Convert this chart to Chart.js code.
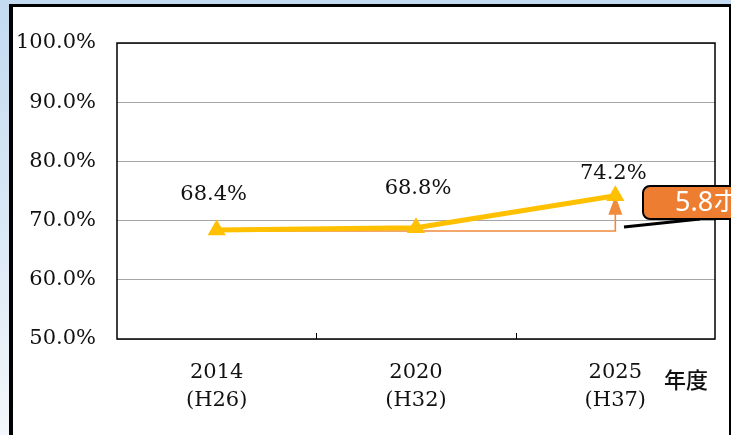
<!DOCTYPE html>
<html>
<head>
<meta charset="utf-8">
<script src="https://cdn.jsdelivr.net/npm/chart.js@4/dist/chart.umd.min.js"></script>
<style>
  html, body { margin: 0; padding: 0; }
  body {
    width: 731px; height: 435px; overflow: hidden; position: relative;
    background: linear-gradient(to bottom, #c3daf0 0%, #dce9f6 55%, #f3f7fb 100%);
  }
  #panel {
    position: absolute; left: 9px; top: 4px; width: 716px; height: 440px;
    background: #fff; border-left: 4px solid #000; border-top: 3px solid #000; border-right: 2px solid #000;
  }
  #chart { position: absolute; left: 0; top: 0; }
</style>
</head>
<body>
<div id="panel"></div>
<canvas id="chart" width="731" height="435"></canvas>
<script>
// データ
const categories = [['2014', '(H26)'], ['2020', '(H32)'], ['2025', '(H37)']];
const rates = [68.4, 68.8, 74.2];
const yTicks = [50, 60, 70, 80, 90, 100];
const diffLabel = '5.8ポイント';
const unitLabel = '年度';

const serif = '"DejaVu Serif", "Liberation Serif", serif';

// ラベルの位置調整
const labelDx = [-3, 2, -2];
const labelDy = [36, 39, 22];

// 枠線・目盛り・矢印・吹き出し
const decoPlugin = {
  id: 'deco',
  beforeDatasetsDraw(chart) {
    const { ctx, chartArea: a, scales: { x, y } } = chart;
    ctx.save();
    // 枠線
    ctx.strokeStyle = '#000';
    ctx.lineWidth = 1.5;
    ctx.strokeRect(a.left, a.top, a.right - a.left, a.bottom - a.top);
    // 内向きの目盛り
    ctx.lineWidth = 1;
    for (let i = 1; i < categories.length; i++) {
      const xx = Math.round((x.getPixelForValue(i - 1) + x.getPixelForValue(i)) / 2) + 0.5;
      ctx.beginPath();
      ctx.moveTo(xx, a.bottom - 6);
      ctx.lineTo(xx, a.bottom);
      ctx.stroke();
    }
    // 差分の矢印
    const x0 = x.getPixelForValue(0);
    const x2 = x.getPixelForValue(2);
    const y0 = y.getPixelForValue(rates[0]);
    const y2 = y.getPixelForValue(rates[2]);
    ctx.strokeStyle = '#F08A3C';
    ctx.fillStyle = '#F08A3C';
    ctx.lineWidth = 1.6;
    ctx.beginPath();
    ctx.moveTo(x0, y0 + 1);
    ctx.lineTo(x2, y0 + 1);
    ctx.lineTo(x2, y2 + 16);
    ctx.stroke();
    ctx.beginPath();
    ctx.moveTo(x2, y2);
    ctx.lineTo(x2 - 7, y2 + 19);
    ctx.lineTo(x2 + 7, y2 + 19);
    ctx.closePath();
    ctx.fill();
    ctx.restore();
  },
  afterDatasetsDraw(chart) {
    const { ctx } = chart;
    const pts = chart.getDatasetMeta(0).data;
    ctx.save();
    ctx.fillStyle = '#111';
    ctx.font = '21px ' + serif;
    ctx.textAlign = 'center';
    ctx.textBaseline = 'middle';
    pts.forEach((p, i) => {
      ctx.fillText(rates[i].toFixed(1) + '%', p.x + labelDx[i], p.y - labelDy[i]);
    });
    ctx.restore();
  },
  afterDraw(chart) {
    const { ctx } = chart;
    ctx.save();
    // 単位
    ctx.fillStyle = '#111';
    ctx.font = '500 22px "Noto Sans CJK JP", sans-serif';
    ctx.textAlign = 'left';
    ctx.textBaseline = 'middle';
    ctx.fillText(unitLabel, 664, 380);
    // 吹き出し
    ctx.strokeStyle = '#000';
    ctx.lineWidth = 3;
    ctx.beginPath();
    ctx.moveTo(624, 227);
    ctx.lineTo(700, 219);
    ctx.stroke();
    const bx = 643, by = 186, bw = 100, bh = 33, r = 7;
    ctx.beginPath();
    ctx.moveTo(bx + r, by);
    ctx.lineTo(bx + bw, by);
    ctx.lineTo(bx + bw, by + bh);
    ctx.lineTo(bx + r, by + bh);
    ctx.arcTo(bx, by + bh, bx, by + bh - r, r);
    ctx.lineTo(bx, by + r);
    ctx.arcTo(bx, by, bx + r, by, r);
    ctx.closePath();
    ctx.fillStyle = '#ED7D31';
    ctx.fill();
    ctx.lineWidth = 2;
    ctx.stroke();
    ctx.fillStyle = '#fff';
    ctx.font = '27px "Noto Sans", "Noto Sans CJK JP", sans-serif';
    ctx.textBaseline = 'middle';
    ctx.fillText(diffLabel, 675, by + bh / 2 + 1);
    ctx.restore();
  }
};

new Chart(document.getElementById('chart'), {
  type: 'line',
  data: {
    labels: categories,
    datasets: [{
      data: rates,
      borderColor: '#FFC000',
      backgroundColor: '#FFC000',
      borderWidth: 5,
      tension: 0,
      pointStyle: 'triangle',
      pointRadius: 10.5,
      pointBorderWidth: 0,
      pointBackgroundColor: '#FFC000'
    }]
  },
  options: {
    responsive: false,
    animation: false,
    layout: { padding: { top: 43, right: 16, left: 0, bottom: 0 } },
    plugins: { legend: { display: false }, tooltip: { enabled: false } },
    scales: {
      x: {
        offset: true,
        afterFit(scale) { scale.height = 96; },
        grid: { display: false, drawTicks: false },
        border: { display: false },
        ticks: {
          color: '#111',
          padding: 19,
          font: { family: serif, size: 21, lineHeight: 1.35 },
          maxRotation: 0
        }
      },
      y: {
        min: 50,
        max: 100,
        afterFit(scale) { scale.width = 117; },
        afterBuildTicks(scale) { scale.ticks = yTicks.map(v => ({ value: v })); },
        grid: { color: '#a6a6a6', lineWidth: 1, drawTicks: false },
        border: { display: false },
        ticks: {
          color: '#111',
          padding: 21,
          font: { family: serif, size: 21 },
          callback: v => v.toFixed(1) + '%'
        }
      }
    }
  },
  plugins: [decoPlugin]
});
</script>
</body>
</html>
